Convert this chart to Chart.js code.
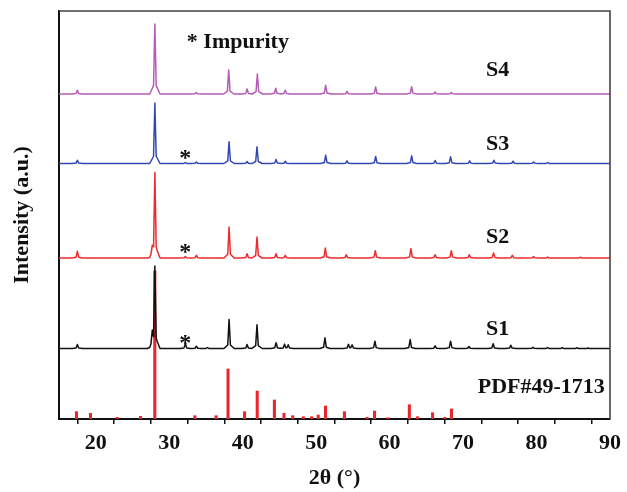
<!DOCTYPE html>
<html lang="en">
<head>
<meta charset="UTF-8">
<title>XRD patterns S1-S4</title>
<script src="https://cdn.jsdelivr.net/npm/chart.js"></script>
<style>
    html, body { margin: 0; padding: 0; background: #fff; }
    #box { width: 627px; height: 492px; }
</style>
</head>
<body>
<div id="box"><canvas id="xrd"></canvas></div>
<script>
    // peak lists: [2theta, height above the pattern's own baseline]
    const s1Peaks = [[17.5, 4], [27.7, 12], [28.05, 81.5], [32.2, 5], [33.7, 2.3], [35.2, 1], [38.15, 29],
        [40.6, 4], [41.95, 23.7], [44.55, 5.7], [45.7, 4.2], [46.2, 3.5], [51.2, 10.7], [54.4, 4], [54.9, 3.5],
        [58.0, 7.3], [62.8, 9], [66.2, 2.7], [68.3, 7.3], [70.8, 2], [74.1, 4.7], [76.5, 3.3], [79.5, 1.3],
        [81.5, 1], [83.5, 0.7], [85.5, 0.7], [87.0, 0.5]];
    const s2Peaks = [[17.5, 6.7], [27.7, 6], [28.05, 85], [32.2, 1.5], [33.7, 2.7], [38.15, 31], [40.6, 4.3],
        [41.95, 21], [44.55, 4.3], [45.8, 2.5], [51.25, 10], [54.1, 3.3], [58.05, 7.3], [62.9, 9.3], [66.2, 3.3],
        [68.4, 7.3], [70.85, 3.3], [74.15, 5], [76.7, 2.7], [79.6, 1.5], [81.5, 1], [86.0, 0.7]];
    const s3Peaks = [[17.5, 3.3], [28.05, 60.5], [32.2, 1], [33.7, 1.5], [38.15, 21.7], [40.6, 2], [41.95, 16.7],
        [44.55, 4], [45.8, 2.3], [51.3, 8.3], [54.2, 2.7], [58.1, 7], [63.0, 7.7], [66.2, 3], [68.3, 6.7],
        [70.9, 2.7], [74.2, 3.3], [76.8, 2.3], [79.6, 1.5], [81.5, 1]];
    const s4Peaks = [[17.5, 3.7], [28.05, 70], [33.7, 1.5], [38.1, 24], [40.6, 5], [42.0, 20], [44.5, 5.7],
        [45.8, 3.7], [51.3, 8.7], [54.2, 2.7], [58.1, 7], [63.0, 7.3], [66.2, 2], [68.4, 1.5]];
    // standard card PDF#49-1713 reflections
    const pdfLines = [[17.38, 7.3], [19.28, 5.7], [22.93, 1.7], [26.1, 2.7], [28.04, 148], [33.49, 3.3],
        [36.39, 3.3], [38.01, 50], [40.26, 7.3], [41.98, 28], [44.32, 19], [45.63, 5.7], [46.81, 3.3],
        [48.25, 2.3], [49.38, 2.3], [50.28, 4], [51.28, 13], [53.85, 7.3], [56.91, 1.7], [57.95, 8],
        [59.75, 1.3], [62.69, 14.3], [63.81, 2.3], [65.85, 6.3], [67.52, 1.7], [68.42, 10]];

    const sampleNames = ['S1', 'S2', 'S3', 'S4'];
    const baselines = [70.5, 161, 255.5, 325];
    const impurityAt = 32.2;
    const xTicks = [20, 30, 40, 50, 60, 70, 80, 90];

    const colors = ['#111111', '#ee2a2c', '#3548b2', '#b45cb6'];
    const pdfColor = '#e8262b';
    const serif = '"Liberation Serif", "Times New Roman", serif';

    // each reflection is drawn as a narrow spike with a small foot
    const shapeDx = [-0.7, -0.18, 0, 0.18, 0.7];
    const shapeK = [0, 0.12, 1, 0.12, 0];

    function profile(peaks, base) {
        const xs = new Set([15, 90]);
        peaks.forEach(p => shapeDx.forEach(d => xs.add(+(p[0] + d).toFixed(3))));
        const sorted = [...xs].filter(x => x >= 15 && x <= 90).sort((a, b) => a - b);
        return sorted.map(x => {
            let y = 0;
            peaks.forEach(p => {
                for (let i = 0; i < shapeDx.length - 1; i++) {
                    const x0 = p[0] + shapeDx[i], x1 = p[0] + shapeDx[i + 1];
                    if (x >= x0 && x <= x1) {
                        const t = (x - x0) / (x1 - x0);
                        y += p[1] * (shapeK[i] + t * (shapeK[i + 1] - shapeK[i]));
                        break;
                    }
                }
            });
            return { x: x, y: base + y };
        });
    }

    const allPeaks = [s1Peaks, s2Peaks, s3Peaks, s4Peaks];
    const lineSets = allPeaks.map((pk, i) => ({
        type: 'line',
        label: sampleNames[i],
        data: profile(pk, baselines[i]),
        borderColor: colors[i],
        borderWidth: 1.5,
        borderJoinStyle: 'round',
        pointRadius: 0,
        tension: 0,
        order: i
    }));

    const pdfSet = {
        type: 'bar',
        label: 'PDF#49-1713',
        data: pdfLines.map(p => ({ x: p[0], y: p[1] })),
        backgroundColor: pdfColor,
        barThickness: 2.4,
        order: 10
    };

    // frame on top/right plus the text labels placed in data coordinates
    const decor = {
        id: 'decor',
        afterDatasetsDraw(chart) {
            const { ctx, chartArea: a, scales: { x, y } } = chart;
            ctx.save();
            ctx.strokeStyle = '#444';
            ctx.lineWidth = 1.6;
            ctx.beginPath();
            ctx.moveTo(a.left, a.top);
            ctx.lineTo(a.right, a.top);
            ctx.lineTo(a.right, a.bottom);
            ctx.stroke();

            ctx.fillStyle = '#111';
            ctx.font = 'bold 22px ' + serif;
            ctx.textBaseline = 'middle';
            ctx.textAlign = 'center';
            const labelY = [89.5, 182, 274.5, 348.5];
            sampleNames.forEach((n, i) => ctx.fillText(n, x.getPixelForValue(74.7), y.getPixelForValue(labelY[i])));
            ctx.textAlign = 'right';
            ctx.fillText('PDF#49-1713', x.getPixelForValue(89.3), y.getPixelForValue(32));
            ctx.textAlign = 'left';
            ctx.fillText('* Impurity', x.getPixelForValue(32.4), y.getPixelForValue(377));

            ctx.textAlign = 'center';
            ctx.font = 'bold 24px ' + serif;
            [0, 1, 2].forEach(i => ctx.fillText('*', x.getPixelForValue(impurityAt), y.getPixelForValue(baselines[i] + 5)));
            ctx.restore();
        }
    };

    new Chart(document.getElementById('xrd'), {
        type: 'line',
        data: { datasets: [...lineSets, pdfSet] },
        options: {
            responsive: true,
            maintainAspectRatio: false,
            animation: false,
            layout: { padding: { top: 11, right: 14, left: 0, bottom: 0 } },
            plugins: { legend: { display: false }, tooltip: { enabled: false } },
            scales: {
                x: {
                    type: 'linear',
                    min: 15,
                    max: 90,
                    offset: false,
                    afterFit(s) { s.height = 73; },
                    afterBuildTicks(s) {
                        s.ticks = [];
                        for (let v = 15; v <= 90; v += 5) s.ticks.push({ value: v });
                    },
                    ticks: {
                        autoSkip: false,
                        maxRotation: 0,
                        padding: 6,
                        color: '#111',
                        font: { family: serif, size: 22, weight: 'bold' },
                        callback: v => xTicks.includes(v) ? String(v) : ''
                    },
                    grid: { drawOnChartArea: false, tickLength: 5, color: '#111', lineWidth: 1.5 },
                    border: { color: '#111', width: 2 },
                    title: {
                        display: true,
                        text: '2θ (°)',
                        color: '#111',
                        font: { family: serif, size: 22, weight: 'bold' },
                        padding: { top: 0, bottom: 0 }
                    }
                },
                y: {
                    min: 0,
                    max: 408,
                    afterFit(s) { s.width = 59; },
                    ticks: { display: false },
                    grid: { display: false },
                    border: { color: '#111', width: 2 },
                    title: {
                        display: true,
                        text: 'Intensity (a.u.)',
                        color: '#111',
                        font: { family: serif, size: 22, weight: 'bold' },
                        padding: { top: 9, bottom: 0 }
                    }
                }
            }
        },
        plugins: [decor]
    });
</script>
</body>
</html>
